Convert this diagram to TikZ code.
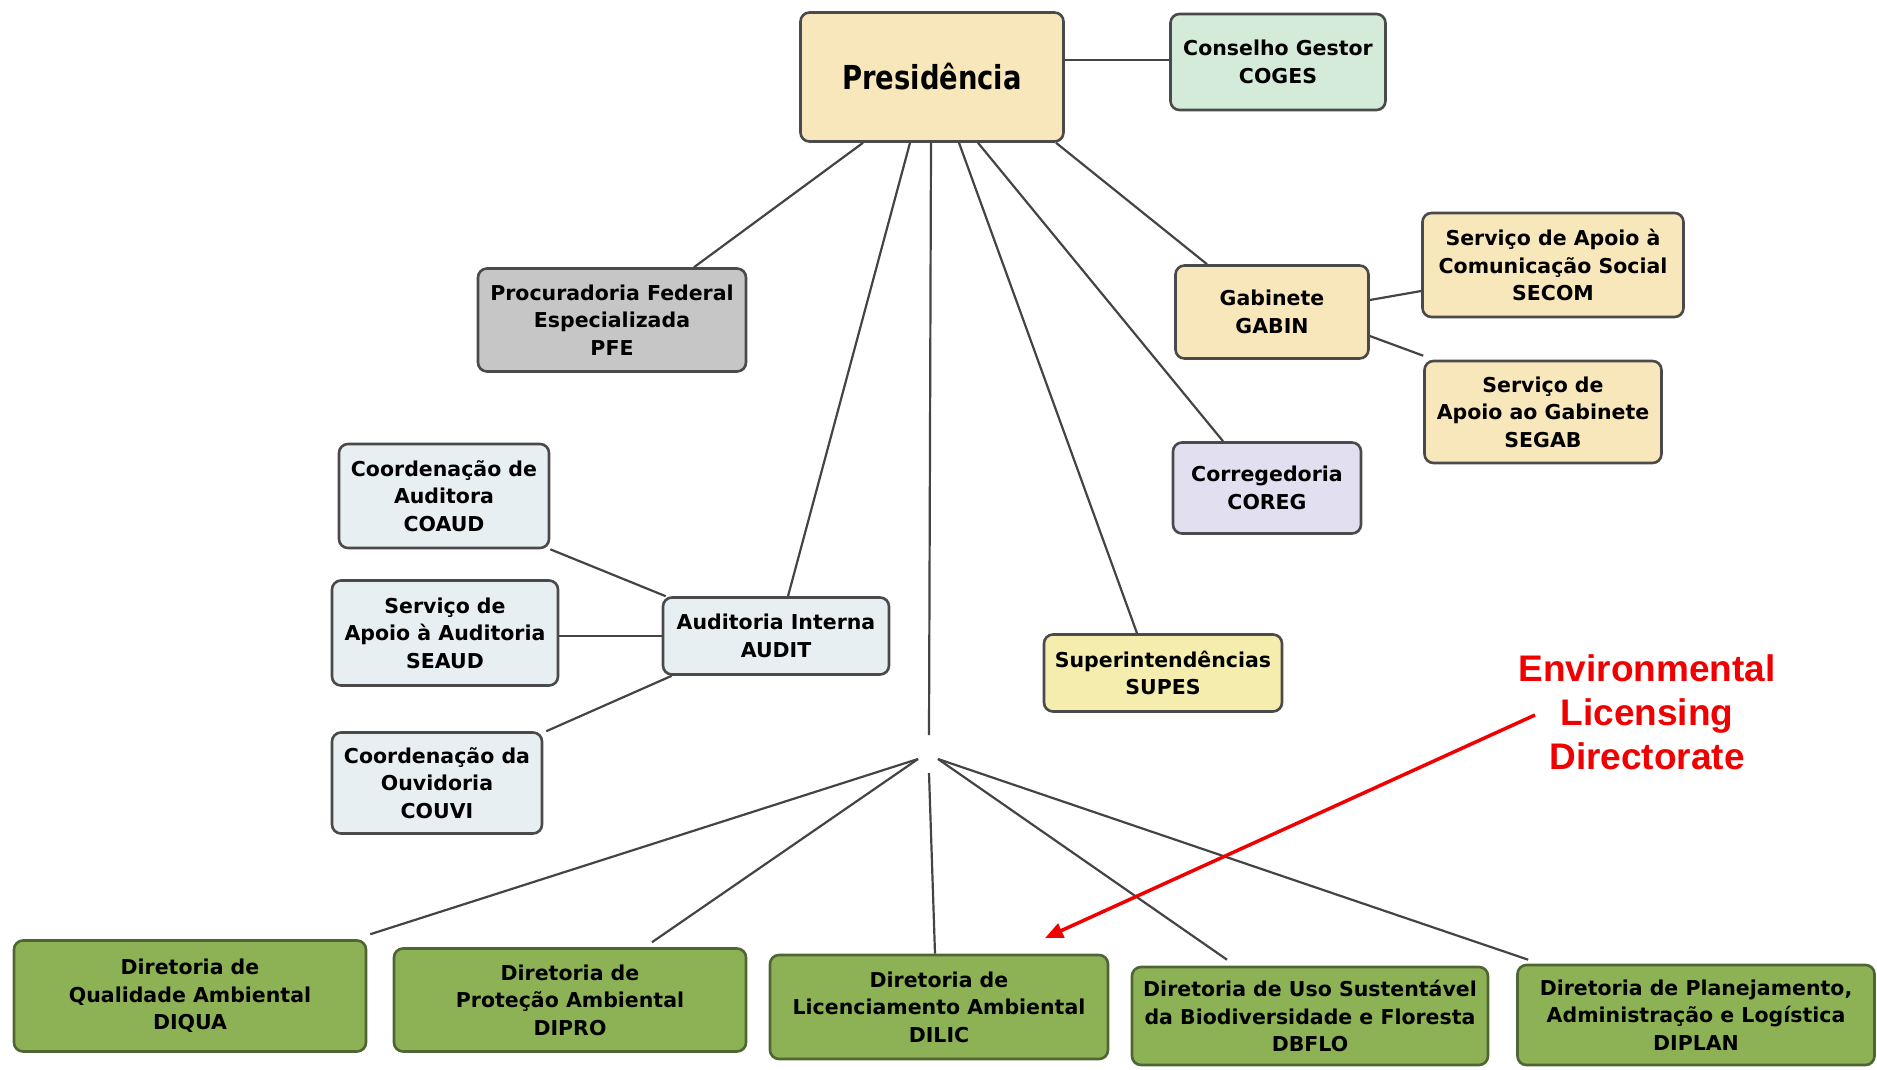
\documentclass[tikz,border=0pt]{standalone}
\usepackage{fontspec}
\setmainfont{DejaVu Sans}
\newfontfamily\presfont[FakeStretch=0.83]{DejaVu Sans}
\newfontfamily\redfont{Liberation Sans}
\usetikzlibrary{arrows.meta}
\definecolor{bordc}{HTML}{4A4A4A}
\definecolor{linec}{HTML}{444444}
\definecolor{beige}{HTML}{F8E7BA}
\definecolor{mint}{HTML}{D4EBDA}
\definecolor{grayb}{HTML}{C6C6C6}
\definecolor{lav}{HTML}{E2DFF0}
\definecolor{iceb}{HTML}{E8EFF2}
\definecolor{lemon}{HTML}{F4EDAE}
\definecolor{leaf}{HTML}{8DB255}
\definecolor{leafb}{HTML}{4F6534}
\definecolor{annot}{HTML}{F00000}
\begin{document}
\begin{tikzpicture}[x=1pt,y=-1pt,
  box/.style={draw=bordc, line width=2.6, rounded corners=9, align=center,
    inner sep=0, font={\fontsize{20.5}{27.5}\selectfont\bfseries}, text=black},
  dirbox/.style={box, fill=leaf, draw=leafb},
  link/.style={draw=linec, line width=2.2}]
\useasboundingbox (0,0) rectangle (1877,1069);

% nodes
\node[box, fill=beige, minimum width=263, minimum height=129,
  font={\presfont\fontsize{33}{38}\selectfont\bfseries}] (pres) at (932,77) {Presidência};
\node[box, fill=mint, minimum width=215, minimum height=96] (coges) at (1278,62) {Conselho Gestor\\COGES};
\node[box, fill=grayb, minimum width=268, minimum height=103] (pfe) at (612,320) {Procuradoria Federal\\Especializada\\PFE};
\node[box, fill=beige, minimum width=193, minimum height=93] (gabin) at (1272,312) {Gabinete\\GABIN};
\node[box, fill=beige, minimum width=261, minimum height=104] (secom) at (1553,265) {Serviço de Apoio à\\Comunicação Social\\SECOM};
\node[box, fill=beige, minimum width=237, minimum height=102] (segab) at (1543,412) {Serviço de\\Apoio ao Gabinete\\SEGAB};
\node[box, fill=lav, minimum width=188, minimum height=91] (coreg) at (1267,488) {Corregedoria\\COREG};
\node[box, fill=iceb, minimum width=210, minimum height=104] (coaud) at (444,496) {Coordenação de\\Auditora\\COAUD};
\node[box, fill=iceb, minimum width=226, minimum height=105] (seaud) at (445,633) {Serviço de\\Apoio à Auditoria\\SEAUD};
\node[box, fill=iceb, minimum width=226, minimum height=77] (audit) at (776,636) {Auditoria Interna\\AUDIT};
\node[box, fill=iceb, minimum width=210, minimum height=101] (couvi) at (437,783) {Coordenação da\\Ouvidoria\\COUVI};
\node[box, fill=lemon, minimum width=238, minimum height=77] (supes) at (1163,673) {Superintendências\\SUPES};

\node[dirbox, minimum width=352, minimum height=111] (diqua) at (190,996) {Diretoria de\\Qualidade Ambiental\\DIQUA};
\node[dirbox, minimum width=352, minimum height=103] (dipro) at (570,1000) {Diretoria de\\Proteção Ambiental\\DIPRO};
\node[dirbox, minimum width=338, minimum height=104] (dilic) at (939,1007) {Diretoria de\\Licenciamento Ambiental\\DILIC};
\node[dirbox, minimum width=356, minimum height=98] (dbflo) at (1310,1016) {Diretoria de Uso Sustentável\\da Biodiversidade e Floresta\\DBFLO};
\node[dirbox, minimum width=357, minimum height=100] (diplan) at (1696,1015) {Diretoria de Planejamento,\\Administração e Logística\\DIPLAN};

% hub coordinates
\coordinate (hubtop) at (929,735);
\coordinate (hubL) at (918,759);
\coordinate (hubR) at (938,759);
\coordinate (hubbot) at (929,773);

% links from Presidencia
\draw[link] ([xshift=-69]pres.south) -- ([xshift=82]pfe.north);
\draw[link] ([xshift=-22]pres.south) -- ([xshift=12]audit.north);
\draw[link] ([xshift=-1]pres.south) -- (hubtop);
\draw[link] ([xshift=27]pres.south) -- ([xshift=-26]supes.north);
\draw[link] ([xshift=46]pres.south) -- ([xshift=-44]coreg.north);
\draw[link] ([xshift=124]pres.south) -- ([xshift=-65]gabin.north);
\draw[link] ([yshift=17]pres.east) -- ([yshift=17]pres.east -| coges.west);

% Gabinete
\draw[link] ([yshift=12]gabin.east) -- ([yshift=-26]secom.west);
\draw[link] ([yshift=-24]gabin.east) -- ([yshift=4]segab.north west);

% Auditoria
\draw[link] (coaud.south east) -- ([xshift=4]audit.north west);
\draw[link] ([yshift=-3]seaud.east) -- ([yshift=-3]seaud.east -| audit.west);
\draw[link] ([xshift=3]couvi.north east) -- ([xshift=10]audit.south west);

% Directorates
\draw[link] (hubL) -- ([xshift=3,yshift=5]diqua.north east);
\draw[link] (hubL) -- ([xshift=82,yshift=5]dipro.north);
\draw[link] (hubbot) -- ([xshift=-4]dilic.north);
\draw[link] (hubR) -- ([xshift=-83,yshift=6]dbflo.north);
\draw[link] (hubR) -- ([xshift=12,yshift=4]diplan.north west);

% annotation
\node[align=center, text=annot, font={\redfont\fontsize{37}{44}\selectfont\bfseries}] (note) at (1647,712) {Environmental\\Licensing\\Directorate};
\coordinate (arrS) at (1535,715);
\coordinate (arrE) at (1045,938);
\draw[annot, line width=3.5, -{Triangle[length=18,width=15]}] (arrS) -- (arrE);
\end{tikzpicture}
\end{document}
